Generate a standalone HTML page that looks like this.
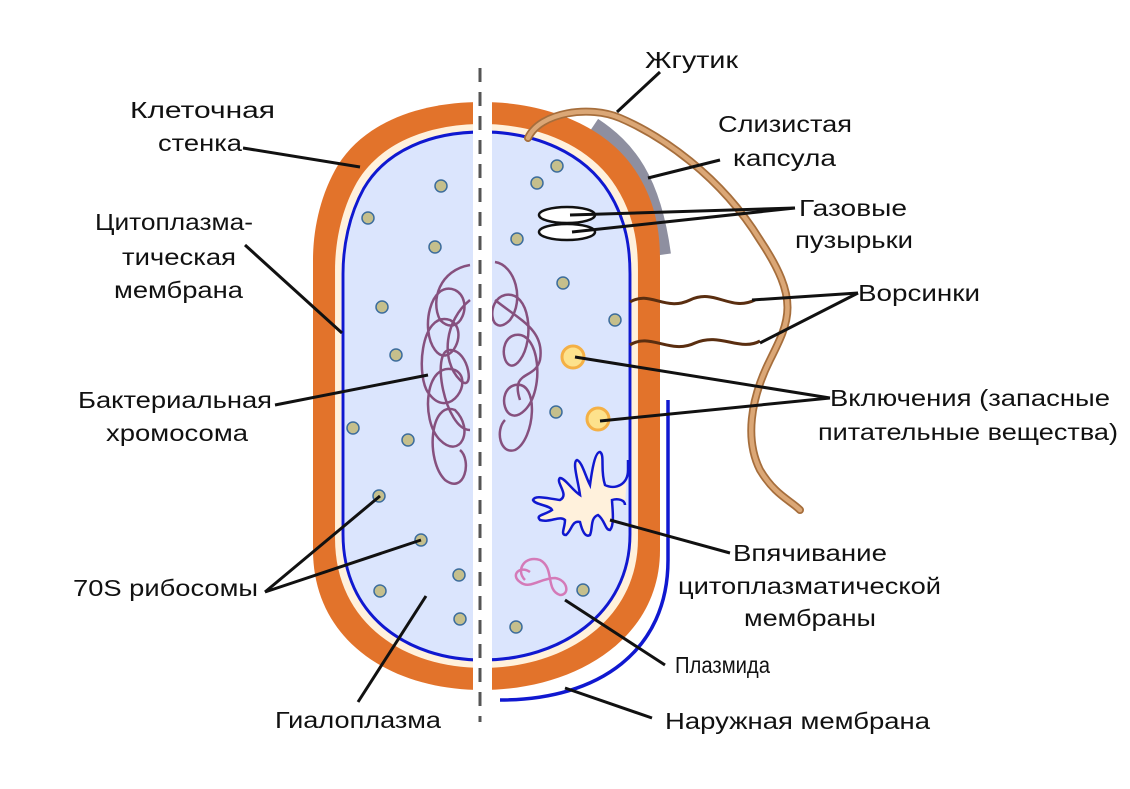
<!DOCTYPE html>
<html><head><meta charset="utf-8"><style>
html,body{margin:0;padding:0;background:#fff}
svg{display:block}
text{font-family:"Liberation Sans",sans-serif;font-size:23px;fill:#111}
</style></head><body>
<svg width="1130" height="789" viewBox="0 0 1130 789">
<defs>
<path id="cap" d="M482,102 C420,102 365,122 338,165 C320,195 313,230 313,260 L313,550 C313,640 390,690 482,690 C574,690 660,640 660,550 L660,260 C660,230 655,200 635,170 C605,125 545,102 482,102 Z"/>
</defs>
<path d="M592,128 C625,150 650,180 660,255" stroke="#8e8fa0" stroke-width="22" fill="none"/>
<use href="#cap" fill="#e2732b"/>
<use href="#cap" fill="#fff1dc" transform="translate(486.5,396) scale(0.873,0.925) translate(-486.5,-396)"/>
<use href="#cap" fill="#dbe5fd" stroke="#1018d0" stroke-width="3.5" vector-effect="non-scaling-stroke" transform="translate(486.5,396) scale(0.827,0.898) translate(-486.5,-396)"/>
<g fill="none" stroke="#86507e" stroke-width="2.5">
<path d="M470,265 C440,270 430,300 440,320 C460,340 475,300 455,290 C430,280 420,330 435,350 C450,370 470,330 450,320 C420,310 415,380 430,395 C450,420 475,380 455,370 C425,360 420,420 440,440 C460,460 475,430 455,410 C430,400 425,460 445,480 C465,495 472,460 460,450"/>
<path d="M470,300 C445,320 440,360 460,380 C475,395 470,350 450,350 C430,350 445,430 470,430"/>
<path d="M495,262 C515,265 525,300 510,320 C490,340 485,300 505,295 C530,290 535,340 520,360 C505,380 495,340 515,335 C540,330 545,390 525,410 C505,430 495,390 515,385 C540,380 535,440 515,450 C500,455 495,430 505,420"/>
<path d="M495,300 C520,320 545,330 540,360 C535,380 510,370 520,400"/>
</g>
<rect x="473" y="60" width="19" height="680" fill="#fff"/>
<line x1="480" y1="68" x2="480" y2="722" stroke="#555" stroke-width="3" stroke-dasharray="14,10"/>
<path d="M668,400 L668,560 C668,650 600,700 500,700" stroke="#1018d0" stroke-width="3.5" fill="none"/>
<path d="M630,302 C650,290 665,312 690,300 C715,288 730,312 755,300" stroke="#5a2e10" stroke-width="3" fill="none"/>
<path d="M630,345 C650,332 670,355 695,343 C720,332 740,352 760,341" stroke="#5a2e10" stroke-width="3" fill="none"/>
<path d="M528,138 C540,112 590,105 620,118 C660,135 720,175 760,240 C800,300 790,320 770,360 C750,400 745,440 760,470 C775,495 790,500 800,510" stroke="#a66e3c" stroke-width="8" fill="none" stroke-linecap="round"/>
<path d="M528,138 C540,112 590,105 620,118 C660,135 720,175 760,240 C800,300 790,320 770,360 C750,400 745,440 760,470 C775,495 790,500 800,510" stroke="#dba776" stroke-width="4.5" fill="none" stroke-linecap="round"/>
<ellipse cx="567" cy="215" rx="28" ry="8" fill="#fff" stroke="#111" stroke-width="2.5"/>
<ellipse cx="567" cy="232" rx="28" ry="8" fill="#fff" stroke="#111" stroke-width="2.5"/>
<path d="M628,460 L628,470 C628,485 615,490 605,485 C600,470 605,455 600,452 C595,452 592,470 590,485 C585,475 582,462 577,460 C572,462 578,480 580,495 C572,490 565,478 560,478 C555,482 570,495 560,500 C545,498 535,495 533,500 C535,505 550,505 552,510 C545,515 535,515 540,520 C550,523 560,515 565,520 C565,528 560,535 566,535 C572,530 572,520 580,522 C582,530 585,538 590,535 C593,528 590,518 598,515 C605,520 605,530 610,530 C615,525 612,505 612,500 C618,498 625,500 625,505" stroke="#1018d0" stroke-width="2.5" fill="#fff1dc"/>
<path d="M525,580 C515,570 525,555 540,560 C555,568 545,590 560,595 C570,595 568,580 555,578 C540,578 530,590 520,582 C510,575 520,565 530,572" stroke="#d47ab8" stroke-width="2.5" fill="none"/>
<g fill="#c5bf8c" stroke="#3d6d9c" stroke-width="1.5">
<circle cx="441" cy="186" r="6"/><circle cx="368" cy="218" r="6"/><circle cx="435" cy="247" r="6"/><circle cx="382" cy="307" r="6"/><circle cx="396" cy="355" r="6"/><circle cx="353" cy="428" r="6"/><circle cx="408" cy="440" r="6"/><circle cx="379" cy="496" r="6"/><circle cx="421" cy="540" r="6"/><circle cx="459" cy="575" r="6"/><circle cx="380" cy="591" r="6"/><circle cx="460" cy="619" r="6"/>
<circle cx="557" cy="166" r="6"/><circle cx="537" cy="183" r="6"/><circle cx="517" cy="239" r="6"/><circle cx="563" cy="283" r="6"/><circle cx="615" cy="320" r="6"/><circle cx="556" cy="412" r="6"/><circle cx="583" cy="590" r="6"/><circle cx="516" cy="627" r="6"/>
</g>
<circle cx="573" cy="357" r="11" fill="#fde28c" stroke="#f4b045" stroke-width="3"/>
<circle cx="598" cy="419" r="11" fill="#fde28c" stroke="#f4b045" stroke-width="3"/>
<g stroke="#111" stroke-width="3" fill="none">
<line x1="243" y1="148" x2="360" y2="167"/>
<line x1="245" y1="245" x2="342" y2="333"/>
<line x1="275" y1="405" x2="428" y2="375"/>
<line x1="265" y1="592" x2="380" y2="496"/>
<line x1="265" y1="592" x2="421" y2="540"/>
<line x1="358" y1="702" x2="426" y2="596"/>
<line x1="660" y1="72" x2="617" y2="112"/>
<line x1="720" y1="160" x2="648" y2="178"/>
<line x1="795" y1="208" x2="570" y2="215"/>
<line x1="795" y1="208" x2="572" y2="232"/>
<line x1="858" y1="293" x2="752" y2="300"/>
<line x1="858" y1="293" x2="760" y2="343"/>
<line x1="830" y1="398" x2="575" y2="357"/>
<line x1="830" y1="398" x2="600" y2="421"/>
<line x1="730" y1="553" x2="610" y2="520"/>
<line x1="665" y1="665" x2="565" y2="600"/>
<line x1="652" y1="718" x2="565" y2="688"/>
</g>
<text x="130" y="118" textLength="145" lengthAdjust="spacingAndGlyphs">Клеточная</text>
<text x="158" y="151" textLength="84" lengthAdjust="spacingAndGlyphs">стенка</text>
<text x="95" y="230" textLength="158" lengthAdjust="spacingAndGlyphs">Цитоплазма-</text>
<text x="122" y="265" textLength="114" lengthAdjust="spacingAndGlyphs">тическая</text>
<text x="114" y="298" textLength="129" lengthAdjust="spacingAndGlyphs">мембрана</text>
<text x="78" y="408" textLength="194" lengthAdjust="spacingAndGlyphs">Бактериальная</text>
<text x="106" y="441" textLength="142" lengthAdjust="spacingAndGlyphs">хромосома</text>
<text x="73" y="596" textLength="185" lengthAdjust="spacingAndGlyphs">70S рибосомы</text>
<text x="275" y="728" textLength="166" lengthAdjust="spacingAndGlyphs">Гиалоплазма</text>
<text x="645" y="68" textLength="93" lengthAdjust="spacingAndGlyphs">Жгутик</text>
<text x="718" y="132" textLength="134" lengthAdjust="spacingAndGlyphs">Слизистая</text>
<text x="733" y="166" textLength="103" lengthAdjust="spacingAndGlyphs">капсула</text>
<text x="799" y="216" textLength="108" lengthAdjust="spacingAndGlyphs">Газовые</text>
<text x="795" y="248" textLength="118" lengthAdjust="spacingAndGlyphs">пузырьки</text>
<text x="858" y="301" textLength="122" lengthAdjust="spacingAndGlyphs">Ворсинки</text>
<text x="830" y="406" textLength="280" lengthAdjust="spacingAndGlyphs">Включения (запасные</text>
<text x="818" y="440" textLength="300" lengthAdjust="spacingAndGlyphs">питательные вещества)</text>
<text x="733" y="561" textLength="154" lengthAdjust="spacingAndGlyphs">Впячивание</text>
<text x="678" y="594" textLength="263" lengthAdjust="spacingAndGlyphs">цитоплазматической</text>
<text x="744" y="626" textLength="132" lengthAdjust="spacingAndGlyphs">мембраны</text>
<text x="675" y="673" textLength="95" lengthAdjust="spacingAndGlyphs">Плазмида</text>
<text x="665" y="729" textLength="265" lengthAdjust="spacingAndGlyphs">Наружная мембрана</text>
</svg>
</body></html>
